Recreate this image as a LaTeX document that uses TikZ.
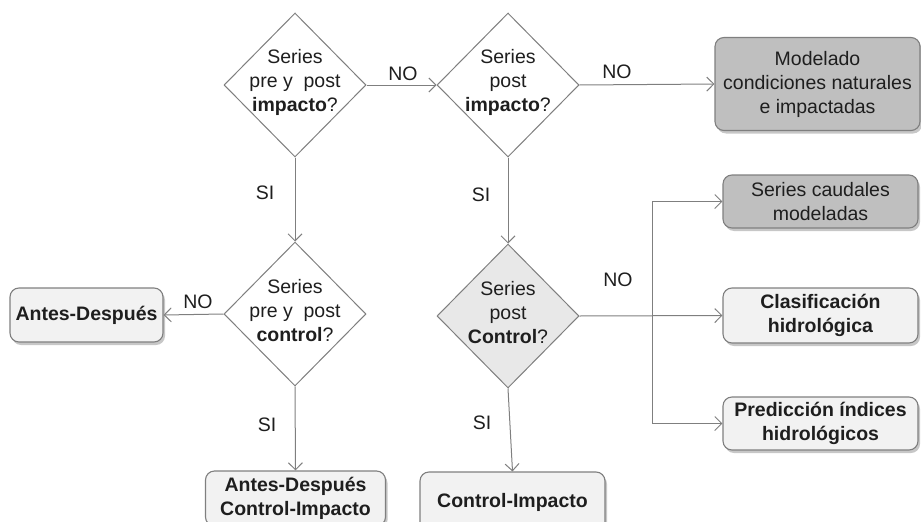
\documentclass[tikz,border=0pt]{standalone}
\usepackage{fontspec}
\setmainfont{Liberation Sans}
\usetikzlibrary{shapes.geometric,arrows.meta,shadows}
\definecolor{edgegray}{HTML}{7F7F7F}
\definecolor{darkfill}{HTML}{BFBFBF}
\definecolor{lightfill}{HTML}{F2F2F2}
\definecolor{dfill}{HTML}{E8E8E8}
\definecolor{txt}{HTML}{1E1E1E}
\tikzset{
  dia/.style={shape=diamond, draw=edgegray, line width=1pt, minimum width=142pt, minimum height=144pt, inner sep=0pt},
  diatext/.style={align=center, text=txt, font=\fontsize{19.5}{24}\selectfont},
  box/.style={rounded corners=9pt, draw=edgegray, line width=1.1pt, align=center, inner sep=2pt,
     text=txt, font=\fontsize{19.5}{24}\selectfont,
     drop shadow={shadow xshift=2pt, shadow yshift=-3pt, fill=black, opacity=0.22}},
  lbox/.style={box, fill=lightfill},
  dbox/.style={box, fill=darkfill},
  conn/.style={draw=edgegray, line width=1pt, -{Straight Barb[length=7pt,width=14pt]}},
  lab/.style={text=txt, font=\fontsize{19.5}{24}\selectfont, inner sep=0pt}
}
\begin{document}
\begin{tikzpicture}[x=1pt,y=-1pt]
\useasboundingbox (0,0) rectangle (921,522);
\clip (0,0) rectangle (921,522);
% diamonds
\node[dia, fill=white] (d1) at (295,85) {};
\node[diatext] (t1) at (295,82) {Series\\pre y\ \ post\\\textbf{impacto}?};
\node[dia, fill=white] (d2) at (508,85) {};
\node[diatext] (t2) at (508,82) {Series\\post\\\textbf{impacto}?};
\node[dia, fill=white] (d3) at (295,314) {};
\node[diatext] (t3) at (295,311) {Series\\pre y\ \ post\\\textbf{control}?};
\node[dia, fill=dfill] (d4) at (508,316) {};
\node[diatext] (t4) at (508,313) {Series\\post\\\textbf{Control}?};
% boxes
\node[dbox, minimum width=205pt, minimum height=93pt] (mod) at (817.5,84) {Modelado\\condiciones naturales\\e impactadas};
\node[dbox, minimum width=195pt, minimum height=53pt] (scm) at (820.5,201.5) {Series caudales\\modeladas};
\node[lbox, minimum width=195pt, minimum height=55pt] (clas) at (820.5,315.5) {\textbf{Clasificación}\\\textbf{hidrológica}};
\node[lbox, minimum width=195pt, minimum height=53pt] (pred) at (820.5,423.5) {\textbf{Predicción índices}\\\textbf{hidrológicos}};
\node[lbox, minimum width=153pt, minimum height=54pt] (ad) at (86.5,315) {\textbf{Antes-Después}};
\node[lbox, minimum width=180pt, minimum height=55pt] (adci) at (295.5,498.5) {\textbf{Antes-Después}\\\textbf{Control-Impacto}};
\node[lbox, minimum width=185pt, minimum height=60pt] (ci) at (512.5,502) {\textbf{Control-Impacto}};
% connectors
\draw[conn] (d1.east) -- (d2.west);
\draw[conn] (d2.east) -- (mod.west);
\draw[conn] (d1.south) -- (d3.north);
\draw[conn] (d3.west) -- (ad.east);
\draw[conn] (d3.south) -- (adci.north);
\draw[conn] (d2.south) -- (d4.north);
\draw[conn] (d4.south) -- (ci.north);
\coordinate (br) at (652,315);
\draw[conn] (d4.east) -- (clas.west);
\draw[conn] (br) |- (scm.west);
\draw[conn] (br) |- (pred.west);
% labels
\node[lab] (n1) at (403,74) {NO};
\node[lab] (n2) at (617,72) {NO};
\node[lab] (n3) at (198,302) {NO};
\node[lab] (n4) at (618,280) {NO};
\node[lab] (s1) at (265,193) {SI};
\node[lab] (s2) at (481,195) {SI};
\node[lab] (s3) at (482,423) {SI};
\node[lab] (s4) at (267,425) {SI};
\end{tikzpicture}
\end{document}
